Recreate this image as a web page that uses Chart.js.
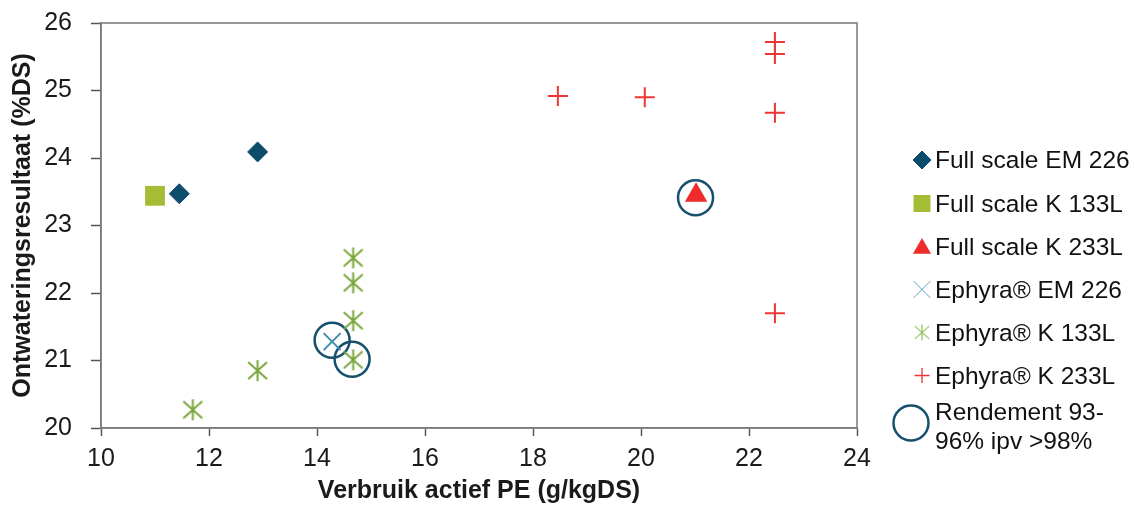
<!DOCTYPE html>
<html>
<head>
<meta charset="utf-8">
<title>Ontwateringsresultaat vs verbruik PE</title>
<script src="https://cdn.jsdelivr.net/npm/chart.js@4.4.1/dist/chart.umd.min.js"></script>
<style>
    html, body { margin: 0; padding: 0; background: #fff; }
    #wrap { width: 1134px; height: 506px; }
</style>
</head>
<body>
<div id="wrap"><canvas id="myChart" width="1134" height="506"></canvas></div>
<script>
// values
const xTicks = [10, 12, 14, 16, 18, 20, 22, 24];
const yTicks = [20, 21, 22, 23, 24, 25, 26];

const fullEmX = [11.45, 12.9];
const fullEmY = [23.47, 24.09];
const fullK133X = [11.0];
const fullK133Y = [23.44];
const fullK233X = [21.02];
const fullK233Y = [23.45];
const ephEmX = [14.28];
const ephEmY = [21.28];
const ephK133X = [14.67, 14.67, 14.67, 14.67, 12.9, 11.7];
const ephK133Y = [22.52, 22.15, 21.59, 21.01, 20.85, 20.27];
const ephK233X = [18.46, 20.07, 22.48, 22.48, 22.48, 22.48];
const ephK233Y = [24.92, 24.90, 25.72, 25.54, 24.67, 21.70];
const rendX = [14.28, 14.65, 21.01];
const rendY = [21.30, 21.02, 23.41];

const labels = [
    'Full scale EM 226',
    'Full scale K 133L',
    'Full scale K 233L',
    'Ephyra® EM 226',
    'Ephyra® K 133L',
    'Ephyra® K 233L',
    ['Rendement 93-', '96% ipv >98%']
];

const FONT = "'Liberation Sans', Arial, sans-serif";

function pts(xs, ys) {
    return xs.map((x, i) => ({ x: x, y: ys[i] }));
}

// asterisk marker (X with a vertical bar)
function makeAsterisk(size, color, lw) {
    const c = document.createElement('canvas');
    c.width = size + 4;
    c.height = size + 4;
    const g = c.getContext('2d');
    const m = c.width / 2;
    const h = size / 2;
    g.strokeStyle = color;
    g.lineWidth = lw;
    g.beginPath();
    g.moveTo(m, m - h); g.lineTo(m, m + h);
    g.moveTo(m - h * 0.9, m - h * 0.8); g.lineTo(m + h * 0.9, m + h * 0.8);
    g.moveTo(m + h * 0.9, m - h * 0.8); g.lineTo(m - h * 0.9, m + h * 0.8);
    g.stroke();
    return c;
}

const green = '#78a63a';
const asteriskBig = makeAsterisk(21, green, 2);
const asteriskSmall = makeAsterisk(16, '#8fbf5a', 1.2);

// legend marker looks (smaller than in the plot)
const legendMarks = [
    { pointStyle: 'rectRot', radius: 9, fill: '#0e4c6c', stroke: '#0e4c6c', lw: 1 },
    { pointStyle: 'rect', radius: 12, fill: '#a5bd34', stroke: '#a5bd34', lw: 0 },
    { pointStyle: 'triangle', radius: 10.5, fill: '#ee2c2c', stroke: '#ee2c2c', lw: 0 },
    { pointStyle: 'crossRot', radius: 12, fill: 'transparent', stroke: '#5a9fc0', lw: 1 },
    { pointStyle: asteriskSmall, radius: 8, fill: 'transparent', stroke: green, lw: 1 },
    { pointStyle: 'cross', radius: 7.5, fill: 'transparent', stroke: '#ee3535', lw: 1.3 },
    { pointStyle: 'circle', radius: 17.5, fill: 'transparent', stroke: '#17506e', lw: 2.5 }
];

const framePlugin = {
    id: 'frame',
    afterDraw(chart) {
        const a = chart.chartArea;
        const ctx = chart.ctx;
        ctx.save();
        ctx.strokeStyle = '#7a7a7a';
        ctx.lineWidth = 1.5;
        ctx.strokeRect(a.left, a.top, a.right - a.left, a.bottom - a.top);
        ctx.restore();
    }
};

const sideLegend = {
    id: 'sideLegend',
    afterDraw(chart) {
        const ctx = chart.ctx;
        const rowY = [160, 203.5, 246.5, 289.5, 332.5, 375.5];
        ctx.save();
        ctx.font = '24.5px ' + FONT;
        ctx.fillStyle = '#111';
        ctx.textBaseline = 'alphabetic';
        ctx.textAlign = 'left';
        legendMarks.forEach((m, i) => {
            let mx = 922, my;
            if (i < 6) {
                my = rowY[i];
                if (m.pointStyle === 'triangle') my += 2;
            } else {
                mx = 911;
                my = 423;
            }
            ctx.fillStyle = m.fill;
            ctx.strokeStyle = m.stroke;
            ctx.lineWidth = m.lw;
            Chart.helpers.drawPoint(ctx, { pointStyle: m.pointStyle, radius: m.radius, borderWidth: m.lw, rotation: 0 }, mx, my);
            ctx.fillStyle = '#111';
            const lab = labels[i];
            if (Array.isArray(lab)) {
                ctx.fillText(lab[0], 935, 420);
                ctx.fillText(lab[1], 935, 449);
            } else {
                ctx.fillText(lab, 935, my + 8 - (m.pointStyle === 'triangle' ? 2 : 0));
            }
        });
        ctx.restore();
    }
};

const ctx = document.getElementById('myChart').getContext('2d');
const myChart = new Chart(ctx, {
    type: 'scatter',
    data: {
        datasets: [
            {
                label: labels[0],
                data: pts(fullEmX, fullEmY),
                pointStyle: 'rectRot',
                radius: 10,
                backgroundColor: '#0e4c6c',
                borderColor: '#0e4c6c',
                borderWidth: 1
            },
            {
                label: labels[1],
                data: pts(fullK133X, fullK133Y),
                pointStyle: 'rect',
                radius: 14,
                backgroundColor: '#a5bd34',
                borderColor: '#a5bd34',
                borderWidth: 0
            },
            {
                label: labels[2],
                data: pts(fullK233X, fullK233Y),
                pointStyle: 'triangle',
                radius: 13,
                backgroundColor: '#ee2c2c',
                borderColor: '#ee2c2c',
                borderWidth: 0
            },
            {
                label: labels[3],
                data: pts(ephEmX, ephEmY),
                pointStyle: 'crossRot',
                radius: 12,
                backgroundColor: 'transparent',
                borderColor: '#3f8db0',
                borderWidth: 2
            },
            {
                label: labels[4],
                data: pts(ephK133X, ephK133Y),
                pointStyle: asteriskBig,
                radius: 10,
                backgroundColor: 'transparent',
                borderColor: green,
                borderWidth: 2
            },
            {
                label: labels[5],
                data: pts(ephK233X, ephK233Y),
                pointStyle: 'cross',
                radius: 10,
                backgroundColor: 'transparent',
                borderColor: '#ee3535',
                borderWidth: 2
            },
            {
                label: 'Rendement 93-96% ipv >98%',
                data: pts(rendX, rendY),
                pointStyle: 'circle',
                radius: 17.5,
                backgroundColor: 'transparent',
                borderColor: '#17506e',
                borderWidth: 2.5
            }
        ]
    },
    options: {
        responsive: false,
        animation: false,
        devicePixelRatio: 1,
        layout: {
            padding: { top: 23, right: 277, bottom: 0, left: 0 }
        },
        plugins: {
            legend: { display: false },
            tooltip: { enabled: false }
        },
        scales: {
            x: {
                type: 'linear',
                min: xTicks[0],
                max: xTicks[xTicks.length - 1],
                afterBuildTicks: s => { s.ticks = xTicks.map(v => ({ value: v })); },
                afterFit: s => { s.height = 78; s.paddingLeft = 0; s.paddingRight = 0; },
                grid: { drawOnChartArea: false, drawTicks: true, tickLength: 8, tickColor: '#555', tickWidth: 1.5 },
                border: { display: true, color: '#7a7a7a', width: 1.5 },
                ticks: { color: '#1a1a1a', padding: 8, font: { family: FONT, size: 25 } },
                title: {
                    display: true,
                    text: 'Verbruik actief PE (g/kgDS)',
                    color: '#1a1a1a',
                    font: { family: FONT, size: 25, weight: 'bold' },
                    padding: { top: 0, bottom: 0 }
                }
            },
            y: {
                type: 'linear',
                min: yTicks[0],
                max: yTicks[yTicks.length - 1],
                afterBuildTicks: s => { s.ticks = yTicks.map(v => ({ value: v })); },
                afterFit: s => { s.width = 101; s.paddingTop = 0; s.paddingBottom = 0; },
                grid: { drawOnChartArea: false, drawTicks: true, tickLength: 10, tickColor: '#555', tickWidth: 1.5 },
                border: { display: true, color: '#7a7a7a', width: 1.5 },
                ticks: { color: '#1a1a1a', padding: 19, font: { family: FONT, size: 25 } },
                title: {
                    display: true,
                    text: 'Ontwateringsresultaat (%DS)',
                    color: '#1a1a1a',
                    font: { family: FONT, size: 25, weight: 'bold' },
                    padding: { top: 8, bottom: 0 }
                }
            }
        }
    },
    plugins: [framePlugin, sideLegend]
});
</script>
</body>
</html>
